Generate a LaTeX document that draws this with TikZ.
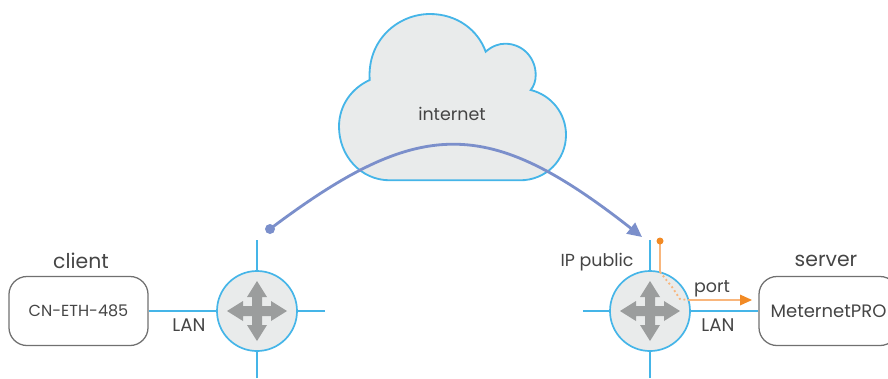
\documentclass[tikz,border=0pt]{standalone}
\usepackage{fontspec}
\setmainfont{Poppins}
\usetikzlibrary{arrows.meta}
\definecolor{wire}{HTML}{45B5E8}
\definecolor{fillgray}{HTML}{E9EBEB}
\definecolor{arrowgray}{HTML}{9B9D9D}
\definecolor{boxgray}{HTML}{707070}
\definecolor{textgray}{HTML}{454545}
\definecolor{route}{HTML}{7B8FCB}
\definecolor{porthead}{HTML}{F28A24}
\definecolor{portline}{HTML}{F9B67C}
\tikzset{
    devicebox/.style = {draw = boxgray, line width = 0.9pt, rounded corners = 4.5mm, minimum width = 3.475cm, minimum height = 1.725cm, inner sep = 0pt, text = textgray},
    router/.style = {circle, draw = wire, fill = fillgray, line width = 1.2pt, minimum size = 2cm, inner sep = 0pt},
    wireline/.style = {wire, line width = 1.3pt},
    lbl/.style = {text = textgray, inner sep = 0pt, font = \fontsize{12.4}{14}\selectfont},
    biglbl/.style = {text = textgray, inner sep = 0pt, font = \fontsize{14.5}{16}\selectfont},
    pics/crossarrows/.style = {code = {
        \foreach \a in {0,90,180,270} {
            \fill[arrowgray, rotate = \a] (-2,-5) -- (14,-5) -- (14,-10) -- (30,0) -- (14,10) -- (14,5) -- (-2,5) -- cycle;
        }
    }}
}
\begin{document}
\begin{tikzpicture}[x = 0.025cm, y = -0.025cm]
        \clip (0,0) rectangle (888,378);

        % stub ends of the router lines
        \coordinate (ltop) at (257,240);
        \coordinate (lbot) at (257,378);
        \coordinate (lright) at (325,311);
        \coordinate (rtop) at (650,240);
        \coordinate (rbot) at (650,378);
        \coordinate (rleft) at (583,311);

        % devices and routers
        \node[devicebox, font = \fontsize{11.4}{13}\selectfont] (client) at (78.5,311) {CN-ETH-485};
        \node[devicebox, font = \fontsize{12.8}{14}\selectfont] (server) at (828.5,311) {MeternetPRO};
        \node[router] (routerL) at (257,311) {};
        \node[router] (routerR) at (650,311) {};

        % lines
        \draw[wireline] (client) -- (routerL);
        \draw[wireline] (ltop) -- (routerL);
        \draw[wireline] (lbot) -- (routerL);
        \draw[wireline] (lright) -- (routerL);
        \draw[wireline] (server) -- (routerR);
        \draw[wireline] (rtop) -- (routerR);
        \draw[wireline] (rbot) -- (routerR);
        \draw[wireline] (rleft) -- (routerR);

        % arrows in the routers
        \pic at (routerL) {crossarrows};
        \pic at (routerR) {crossarrows};

        % cloud
        \draw[wire, fill = fillgray, line width = 1.3pt] (369.7,80)
            .. controls (367,40) and (398,14) .. (430,14)
            .. controls (457,14) and (478,30) .. (485.7,51.7)
            .. controls (492,46) and (499,43.7) .. (505,43.7)
            .. controls (523,43.7) and (535.7,58) .. (535.7,75)
            .. controls (535.7,81) and (534,86) .. (530.7,90)
            .. controls (551,95) and (566,113) .. (566,135)
            .. controls (566,160) and (546,180.3) .. (520,180.3)
            -- (390,180.3)
            .. controls (360,180.3) and (339,155) .. (339,126.7)
            .. controls (339,105) and (352,88) .. (369.7,80) -- cycle;
        \node[lbl] (internet) at (452,114) {internet};

        % route over the internet
        \coordinate (routestart) at (270,229);
        \coordinate (routeend) at (642,237);
        \draw[route, line width = 2pt, -{Triangle[length = 3.6mm, width = 3.4mm]}] (routestart) .. controls (420,116) and (488,116) .. (routeend);
        \fill[route] (routestart) circle (5);

        % port mapping
        \coordinate (portstart) at (660,241);
        \coordinate (portin) at (660,272);
        \coordinate (portout) at (688,300);
        \coordinate (portend) at (752,300);
        \draw[portline, line width = 1.3pt] (portstart) -- (portin);
        \draw[portline, line width = 1.3pt, dotted] (portin) -- (672,287) -- (680,299) -- (portout);
        \draw[portline, line width = 1.3pt] (portout) -- (742,300);
        \fill[porthead] (portend) -- (740,294.5) -- (740,305.5) -- cycle;
        \fill[porthead] (portstart) circle (3.5);

        % labels
        \node[biglbl] (clientlbl) at (81,261) {client};
        \node[biglbl] (serverlbl) at (826,261) {server};
        \node[lbl, font = \fontsize{13}{15}\selectfont] (lanL) at (189,325.5) {LAN};
        \node[lbl, font = \fontsize{13}{15}\selectfont] (lanR) at (718,325.5) {LAN};
        \node[lbl] (portlbl) at (712,289) {port};
        \node[lbl] (iplbl) at (597,262) {IP public};
\end{tikzpicture}
\end{document}
